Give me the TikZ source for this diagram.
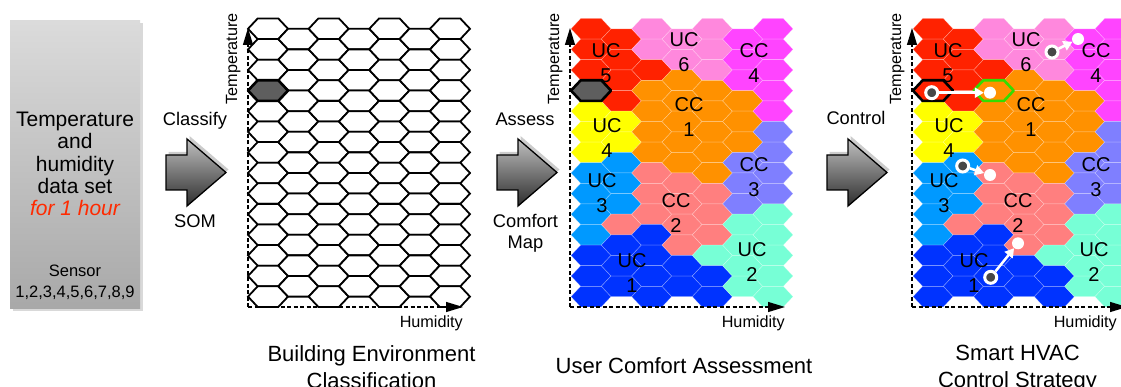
\documentclass[tikz,border=0pt]{standalone}
\usepackage{fontspec}
\setmainfont{Liberation Sans}
\usetikzlibrary{arrows.meta}

\definecolor{uc1}{HTML}{0033FF}
\definecolor{uc2}{HTML}{77FFD6}
\definecolor{uc3}{HTML}{0099FF}
\definecolor{uc4}{HTML}{FFFF00}
\definecolor{uc5}{HTML}{FF2200}
\definecolor{uc6}{HTML}{FF88DD}
\definecolor{cc1}{HTML}{FF9100}
\definecolor{cc2}{HTML}{FF7F7F}
\definecolor{cc3}{HTML}{7F7FFF}
\definecolor{cc4}{HTML}{FF44FF}
\definecolor{hourred}{HTML}{FF2A00}
\definecolor{goalgreen}{HTML}{33DD00}
\definecolor{pickgray}{HTML}{5E5E5E}

% one SOM cell: grid x, column, row, style
\newcommand{\somcell}[4]{%
  \pgfmathsetmacro{\cx}{#1+#2*30.33+20}%
  \pgfmathsetmacro{\cy}{18.5+#3*20.6+10.3+mod(#2,2)*10.3}%
  \draw[#4] (\cx-20,\cy) -- ++(9.67,-10.3) -- ++(20.66,0) -- ++(9.67,10.3) -- ++(-9.67,10.3) -- ++(-20.66,0) -- cycle;%
}

% comfort class of every cell, column by column (even columns 14 cells, odd 13)
\newcommand{\comfortmap}{%
{uc5,uc5,uc5,uc5,uc4,uc4,uc4,uc3,uc3,uc3,uc3,uc1,uc1,uc1},%
{uc5,uc5,uc5,uc5,uc4,uc4,uc3,uc3,uc3,cc2,uc1,uc1,uc1},%
{uc6,uc6,uc5,cc1,cc1,cc1,cc1,cc2,cc2,cc2,uc1,uc1,uc1,uc1},%
{uc6,uc6,cc1,cc1,cc1,cc1,cc1,cc2,cc2,cc2,cc2,uc1,uc1},%
{uc6,uc6,uc6,cc1,cc1,cc1,cc1,cc1,cc2,cc2,cc2,uc2,uc1,uc1},%
{cc4,cc4,cc4,cc1,cc1,cc1,cc3,cc3,cc3,uc2,uc2,uc2,uc2},%
{cc4,cc4,cc4,cc4,cc4,cc3,cc3,cc3,cc3,uc2,uc2,uc2,uc2,uc2}}

\tikzset{
  plaincell/.style={draw=black, line width=1.8pt, fill=white},
  mapcell/.style={draw=white, draw opacity=0.35, line width=0.5pt},
  pickcell/.style={draw=black, line width=2.6pt, fill=pickgray, line join=round},
  targetcell/.style={draw=goalgreen, line width=2.6pt, line join=round},
  axisline/.style={line width=1.2pt, dash pattern=on 4pt off 2.5pt, -{Triangle[length=17pt,width=10pt]}},
  axislabel/.style={font=\fontsize{16.2}{19}\selectfont, inner sep=0pt},
  steplabel/.style={font=\fontsize{18.3}{21}\selectfont, inner sep=0pt, align=center},
  classlabel/.style={font=\fontsize{20}{25}\selectfont, inner sep=0pt, align=center, anchor=north},
  titlelabel/.style={font=\fontsize{22}{27}\selectfont, inner sep=0pt, align=center, anchor=north},
  databox/.style={minimum width=130pt, minimum height=288pt, inner sep=0pt, top color=black!14, bottom color=black!34},
  nowdot/.style={circle, fill=black!72, draw=white, line width=3pt, minimum size=12pt, inner sep=0pt},
  goaldot/.style={circle, fill=white, minimum size=12pt, inner sep=0pt},
  shiftarrow/.style={draw=white, line width=2.5pt, -{Triangle[length=9pt,width=10pt]}},
  flowarrow/.pic={
    \fill[black, opacity=0.2, shift={(2.5,3)}] (0,-17.5) -- (21,-17.5) -- (21,-33.5) -- (60,0) -- (21,33.5) -- (21,17.5) -- (0,17.5) -- cycle;
    \draw[line width=1.3pt, top color=black!25, bottom color=black!82] (0,-17.5) -- (21,-17.5) -- (21,-33.5) -- (60,0) -- (21,33.5) -- (21,17.5) -- (0,17.5) -- cycle;
  }
}

\begin{document}
\begin{tikzpicture}[x=1pt,y=1pt,yscale=-1]
\useasboundingbox (0,0) rectangle (1121,387);
\fill[white] (0,0) rectangle (1121,387);

%Shape: data set box
\fill[black, opacity=0.15] (13,23) rectangle (143,311);
\node[databox] (data) at (75,164.2) {};
% Text Node
\node[font=\fontsize{21}{22.3}\selectfont, align=center, anchor=north, inner sep=0pt] (datatext) at (75,112) {Temperature\\and\\humidity\\data set\\{\color{hourred}\itshape for 1 hour}};
% Text Node
\node[font=\fontsize{16.5}{21}\selectfont, align=center, anchor=north, inner sep=0pt] (sensors) at (75,265) {Sensor\\1,2,3,4,5,6,7,8,9};

%Shape: step arrows
\pic at (166,172.5) {flowarrow};
\pic at (497,172.5) {flowarrow};
\pic at (827,172.5) {flowarrow};
% Text Node
\node[steplabel, anchor=base] (classify) at (195,126) {Classify};
\node[steplabel, anchor=base] (som) at (195,228) {SOM};
\node[steplabel, anchor=base] (assess) at (525,125.5) {Assess};
\node[steplabel, anchor=north] (comfort) at (525.5,214) {Comfort\\Map};
\node[steplabel, anchor=base] (control) at (856,125) {Control};

%Shape: plain SOM grid
\foreach \ci in {0,...,6}{
  \pgfmathtruncatemacro{\nr}{13-mod(\ci,2)}
  \foreach \ri in {0,...,\nr}{\somcell{248}{\ci}{\ri}{plaincell}}
}
\somcell{248}{0}{3}{pickcell}

%Shape: comfort maps
\foreach \gx in {571,913}{
  \foreach \collist [count=\ci from 0] in \comfortmap {
    \foreach \hue [count=\ri from 0] in \collist {\somcell{\gx}{\ci}{\ri}{mapcell, fill=\hue}}
  }
}
\somcell{571}{0}{3}{pickcell}
\somcell{913}{0}{3}{pickcell, fill=uc5}
\somcell{913}{2}{3}{targetcell}

% class labels on both maps
\foreach \gx/\g in {571/a,913/b}{
  \node[classlabel] (uc5\g) at (\gx+35,43) {UC\\5};
  \node[classlabel] (uc6\g) at (\gx+113,32) {UC\\6};
  \node[classlabel] (cc4\g) at (\gx+183,43) {CC\\4};
  \node[classlabel] (cc1\g) at (\gx+118,97) {CC\\1};
  \node[classlabel] (uc4\g) at (\gx+36,118) {UC\\4};
  \node[classlabel] (uc3\g) at (\gx+31,173) {UC\\3};
  \node[classlabel] (cc3\g) at (\gx+183,157) {CC\\3};
  \node[classlabel] (cc2\g) at (\gx+105,193) {CC\\2};
  \node[classlabel] (uc2\g) at (\gx+181,242) {UC\\2};
  \node[classlabel] (uc1\g) at (\gx+61,253) {UC\\1};
}

% axes
\foreach \ax/\hx/\g in {248/463/1,570/785/2,912/1117/3}{
  \coordinate (o\g) at (\ax,307);
  \coordinate (t\g) at (\ax,28);
  \coordinate (h\g) at (\ax+215,307);
  \draw[axisline] (o\g) -- (t\g);
  \draw[axisline] (o\g) -- (h\g);
  \node[axislabel, rotate=90, anchor=base east] (temp\g) at (\ax-11,13) {Temperature};
  \node[axislabel, anchor=base east] (hum\g) at (\hx,327) {Humidity};
}

% control moves
\node[nowdot] (now1) at (931.7,92.7) {};
\node[goaldot] (goal1) at (990,92.7) {};
\node[nowdot] (now2) at (1052,52) {};
\node[goaldot] (goal2) at (1078,39) {};
\node[nowdot] (now3) at (962.7,166) {};
\node[goaldot] (goal3) at (990,175) {};
\node[nowdot] (now4) at (990.7,277.3) {};
\node[goaldot] (goal4) at (1018,243.3) {};
\draw[shiftarrow] (now1) -- (goal1);
\draw[shiftarrow] (now2) -- (goal2);
\draw[shiftarrow] (now3) -- (goal3);
\draw[shiftarrow] (now4) -- (goal4);

% Text Node
\node[titlelabel] (envtitle) at (371.5,345) {Building Environment\\Classification};
\node[titlelabel] (comforttitle) at (684,357) {User Comfort Assessment};
\node[titlelabel] (hvactitle) at (1017.5,345) {Smart HVAC\\Control Strategy};

\end{tikzpicture}
\end{document}
